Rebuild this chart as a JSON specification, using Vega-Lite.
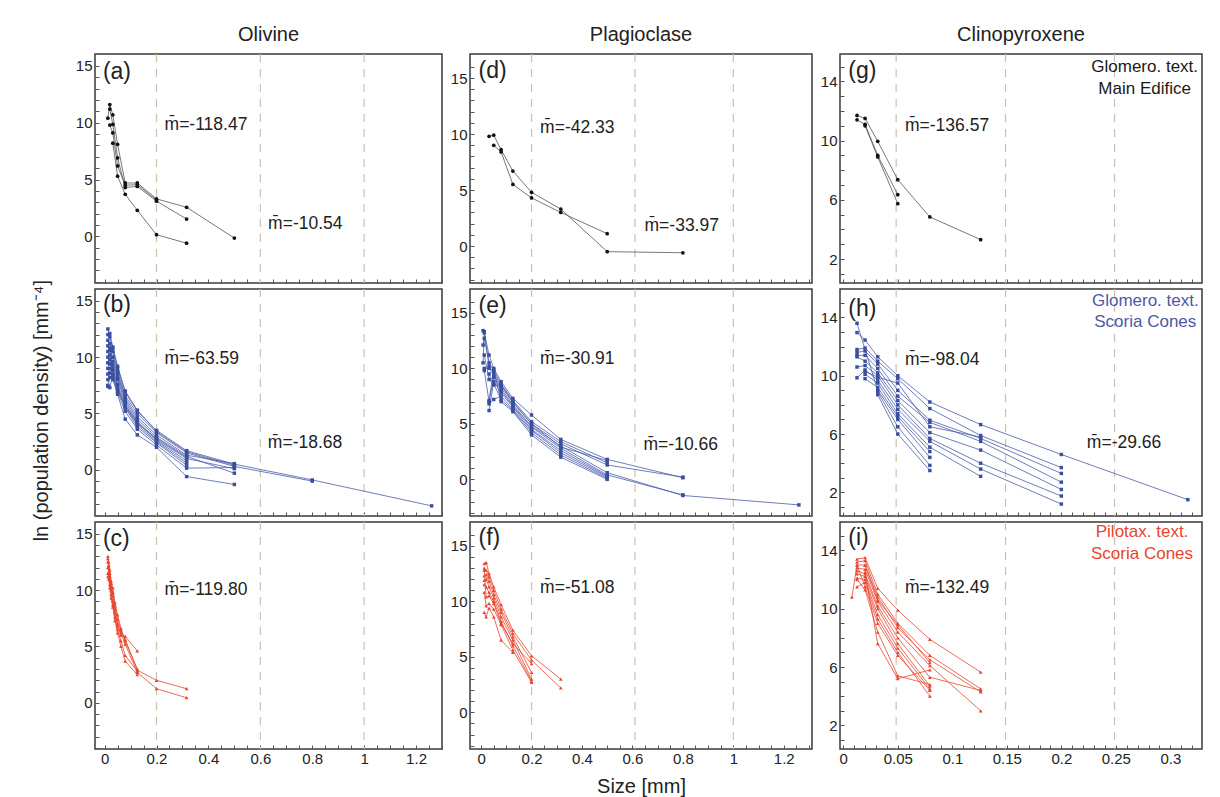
{
"$schema": "https://vega.github.io/schema/vega-lite/v6.json",
"padding": {"left": 31, "top": 24, "right": 5, "bottom": 5},
"background": "white",
"title": {"text": "ln  (population density) [mm⁻⁴]", "orient": "left", "anchor": "middle", "fontSize": 20, "offset": 3, "font": "Liberation Sans", "fontWeight": "normal", "color": "#222", "baseline": "bottom"},
"config": {
  "font": "Liberation Sans",
  "view": {"stroke": "#3a3a3a", "strokeWidth": 1.5},
  "axis": {"grid": false, "domain": false, "tickColor": "#555", "tickSize": 4, "offset": -4, "tickWidth": 1, "labelFont": "Liberation Sans", "labelFontSize": 15, "labelColor": "#222", "labelPadding": 3, "labelOverlap": false, "labelFlush": false, "titleFont": "Liberation Sans", "titleFontSize": 20, "titleFontWeight": "normal", "titleColor": "#222", "titlePadding": 10},
  "axisX": {"labelPadding": 2},
  "title": {"font": "Liberation Sans", "fontSize": 20, "fontWeight": "normal", "color": "#222", "anchor": "middle", "offset": 8, "baseline": "alphabetic"}
},
"datasets": {
  "dOl": [{"x": 0.2}, {"x": 0.6}, {"x": 1.0}],
  "dPl": [{"x": 0.2}, {"x": 0.61}, {"x": 1.0}],
  "dCp": [{"x": 0.0485}, {"x": 0.1488}, {"x": 0.2488}],
  "lab": [
    {"p": "a", "x": -0.0066, "y": 14.5, "t": "(a)"},
    {"p": "b", "x": -0.0066, "y": 14.6, "t": "(b)"},
    {"p": "c", "x": -0.0066, "y": 14.5, "t": "(c)"},
    {"p": "d", "x": -0.0103, "y": 15.65, "t": "(d)"},
    {"p": "e", "x": -0.0103, "y": 15.6, "t": "(e)"},
    {"p": "f", "x": -0.0103, "y": 15.7, "t": "(f)"},
    {"p": "g", "x": 0.0046, "y": 14.7, "t": "(g)"},
    {"p": "h", "x": 0.0046, "y": 14.6, "t": "(h)"},
    {"p": "i", "x": 0.0046, "y": 14.85, "t": "(i)"}
  ],
  "slope": [
    {"p": "a", "x": 0.231, "y": 9.8, "t": "m̄=-118.47"},
    {"p": "a", "x": 0.63, "y": 1.06, "t": "m̄=-10.54"},
    {"p": "b", "x": 0.231, "y": 9.86, "t": "m̄=-63.59"},
    {"p": "b", "x": 0.629, "y": 2.35, "t": "m̄=-18.68"},
    {"p": "c", "x": 0.231, "y": 10.0, "t": "m̄=-119.80"},
    {"p": "d", "x": 0.234, "y": 10.56, "t": "m̄=-42.33"},
    {"p": "d", "x": 0.648, "y": 1.81, "t": "m̄=-33.97"},
    {"p": "e", "x": 0.234, "y": 10.8, "t": "m̄=-30.91"},
    {"p": "e", "x": 0.644, "y": 3.07, "t": "m̄=-10.66"},
    {"p": "f", "x": 0.234, "y": 11.2, "t": "m̄=-51.08"},
    {"p": "g", "x": 0.0566, "y": 11.0, "t": "m̄=-136.57"},
    {"p": "h", "x": 0.0566, "y": 11.1, "t": "m̄=-98.04"},
    {"p": "h", "x": 0.2234, "y": 5.37, "t": "m̄=-29.66"},
    {"p": "i", "x": 0.0566, "y": 11.4, "t": "m̄=-132.49"}
  ],
  "leg": [
    {"p": "g", "x": 0.2764, "y": 15.0, "t": "Glomero. text."},
    {"p": "g", "x": 0.2764, "y": 13.5, "t": "Main Edifice"},
    {"p": "h", "x": 0.277, "y": 15.1, "t": "Glomero. text."},
    {"p": "h", "x": 0.277, "y": 13.7, "t": "Scoria Cones"},
    {"p": "i", "x": 0.274, "y": 15.26, "t": "Pilotax. text."},
    {"p": "i", "x": 0.274, "y": 13.77, "t": "Scoria Cones"}
  ],
  "a": [
    {"s":1,"x":0.0126,"y":10.4},{"s":1,"x":0.02,"y":11.6},{"s":1,"x":0.0316,"y":10.7},{"s":1,"x":0.05,"y":8.1},{"s":1,"x":0.0794,"y":4.7},{"s":1,"x":0.126,"y":4.7},{"s":1,"x":0.2,"y":3.3},{"s":1,"x":0.316,"y":2.56},{"s":1,"x":0.5,"y":-0.15},
    {"s":2,"x":0.02,"y":11.2},{"s":2,"x":0.0316,"y":9.85},{"s":2,"x":0.05,"y":6.9},{"s":2,"x":0.0794,"y":4.3},{"s":2,"x":0.126,"y":4.4},{"s":2,"x":0.2,"y":3.1},{"s":2,"x":0.316,"y":1.53},
    {"s":3,"x":0.02,"y":9.8},{"s":3,"x":0.0316,"y":9.1},{"s":3,"x":0.05,"y":6.2},{"s":3,"x":0.0794,"y":4.5},{"s":3,"x":0.126,"y":4.55},{"s":3,"x":0.2,"y":3.2},
    {"s":4,"x":0.0316,"y":8.2},{"s":4,"x":0.05,"y":5.3},{"s":4,"x":0.0794,"y":3.7},{"s":4,"x":0.126,"y":2.3},{"s":4,"x":0.2,"y":0.15},{"s":4,"x":0.316,"y":-0.6}
  ],
  "b": [
    {"s":1,"x":0.0126,"y":12.5},{"s":1,"x":0.02,"y":11.8},{"s":1,"x":0.0316,"y":10.8},{"s":1,"x":0.05,"y":9.0},{"s":1,"x":0.0794,"y":6.9},{"s":1,"x":0.126,"y":5.2},{"s":1,"x":0.2,"y":3.5},{"s":1,"x":0.316,"y":1.7},{"s":1,"x":0.5,"y":0.5},{"s":1,"x":0.8,"y":-0.9},{"s":1,"x":1.26,"y":-3.2},
    {"s":2,"x":0.0126,"y":11.5},{"s":2,"x":0.02,"y":11.2},{"s":2,"x":0.0316,"y":10.5},{"s":2,"x":0.05,"y":8.7},{"s":2,"x":0.0794,"y":6.6},{"s":2,"x":0.126,"y":5.0},{"s":2,"x":0.2,"y":3.3},{"s":2,"x":0.316,"y":1.5},{"s":2,"x":0.5,"y":0.3},{"s":2,"x":0.8,"y":-1.0},
    {"s":3,"x":0.0126,"y":11.0},{"s":3,"x":0.02,"y":10.8},{"s":3,"x":0.0316,"y":10.0},{"s":3,"x":0.05,"y":8.5},{"s":3,"x":0.0794,"y":6.4},{"s":3,"x":0.126,"y":4.7},{"s":3,"x":0.2,"y":3.1},{"s":3,"x":0.316,"y":1.3},{"s":3,"x":0.5,"y":0.55},
    {"s":4,"x":0.0126,"y":10.5},{"s":4,"x":0.02,"y":10.6},{"s":4,"x":0.0316,"y":9.6},{"s":4,"x":0.05,"y":8.3},{"s":4,"x":0.0794,"y":6.2},{"s":4,"x":0.126,"y":4.5},{"s":4,"x":0.2,"y":2.9},{"s":4,"x":0.316,"y":1.2},{"s":4,"x":0.5,"y":-0.3},
    {"s":5,"x":0.0126,"y":10.0},{"s":5,"x":0.02,"y":10.2},{"s":5,"x":0.0316,"y":9.3},{"s":5,"x":0.05,"y":8.0},{"s":5,"x":0.0794,"y":6.0},{"s":5,"x":0.126,"y":4.3},{"s":5,"x":0.2,"y":2.7},{"s":5,"x":0.316,"y":1.0},{"s":5,"x":0.5,"y":0.1},
    {"s":6,"x":0.0126,"y":9.5},{"s":6,"x":0.02,"y":9.8},{"s":6,"x":0.0316,"y":9.0},{"s":6,"x":0.05,"y":7.6},{"s":6,"x":0.0794,"y":5.8},{"s":6,"x":0.126,"y":4.2},{"s":6,"x":0.2,"y":2.6},{"s":6,"x":0.316,"y":0.8},
    {"s":7,"x":0.0126,"y":9.0},{"s":7,"x":0.02,"y":9.4},{"s":7,"x":0.0316,"y":8.8},{"s":7,"x":0.05,"y":7.4},{"s":7,"x":0.0794,"y":5.6},{"s":7,"x":0.126,"y":4.0},{"s":7,"x":0.2,"y":2.5},{"s":7,"x":0.316,"y":0.6},
    {"s":8,"x":0.0126,"y":8.5},{"s":8,"x":0.02,"y":9.0},{"s":8,"x":0.0316,"y":8.5},{"s":8,"x":0.05,"y":7.2},{"s":8,"x":0.0794,"y":5.5},{"s":8,"x":0.126,"y":3.8},{"s":8,"x":0.2,"y":2.4},{"s":8,"x":0.316,"y":0.4},
    {"s":9,"x":0.0126,"y":8.0},{"s":9,"x":0.02,"y":8.6},{"s":9,"x":0.0316,"y":8.2},{"s":9,"x":0.05,"y":6.9},{"s":9,"x":0.0794,"y":5.2},{"s":9,"x":0.126,"y":3.6},{"s":9,"x":0.2,"y":2.2},{"s":9,"x":0.316,"y":0.15},{"s":9,"x":0.5,"y":0.2},
    {"s":10,"x":0.0126,"y":7.5},{"s":10,"x":0.02,"y":8.2},{"s":10,"x":0.0316,"y":8.0},{"s":10,"x":0.05,"y":6.7},{"s":10,"x":0.0794,"y":4.5},{"s":10,"x":0.126,"y":3.1},{"s":10,"x":0.2,"y":2.0},{"s":10,"x":0.316,"y":-0.6},{"s":10,"x":0.5,"y":-1.3},
    {"s":11,"x":0.0126,"y":7.4},{"s":11,"x":0.02,"y":7.3},{"s":11,"x":0.0316,"y":8.4},{"s":11,"x":0.05,"y":7.0},{"s":11,"x":0.0794,"y":5.7},{"s":11,"x":0.126,"y":4.1},{"s":11,"x":0.2,"y":2.8},{"s":11,"x":0.316,"y":1.1},
    {"s":12,"x":0.0126,"y":12.0},{"s":12,"x":0.02,"y":12.1},{"s":12,"x":0.0316,"y":10.9},{"s":12,"x":0.05,"y":9.2},{"s":12,"x":0.0794,"y":7.0},{"s":12,"x":0.126,"y":5.3},{"s":12,"x":0.2,"y":3.4},{"s":12,"x":0.316,"y":1.6},{"s":12,"x":0.5,"y":0.4}
  ],
  "c": [
    {"s":1,"x":0.0126,"y":13.0},{"s":1,"x":0.0158,"y":12.2},{"s":1,"x":0.02,"y":11.5},{"s":1,"x":0.0251,"y":10.6},{"s":1,"x":0.0316,"y":9.8},{"s":1,"x":0.0398,"y":8.6},{"s":1,"x":0.05,"y":7.4},{"s":1,"x":0.0631,"y":6.4},{"s":1,"x":0.0794,"y":5.6},{"s":1,"x":0.126,"y":2.9},{"s":1,"x":0.2,"y":2.0},{"s":1,"x":0.316,"y":1.25},
    {"s":2,"x":0.0126,"y":12.5},{"s":2,"x":0.0158,"y":12.0},{"s":2,"x":0.02,"y":11.2},{"s":2,"x":0.0251,"y":10.3},{"s":2,"x":0.0316,"y":9.5},{"s":2,"x":0.0398,"y":8.3},{"s":2,"x":0.05,"y":7.0},{"s":2,"x":0.0631,"y":6.2},{"s":2,"x":0.0794,"y":5.2},{"s":2,"x":0.126,"y":2.7},{"s":2,"x":0.2,"y":1.25},{"s":2,"x":0.316,"y":0.45},
    {"s":3,"x":0.0126,"y":12.0},{"s":3,"x":0.0158,"y":11.6},{"s":3,"x":0.02,"y":10.9},{"s":3,"x":0.0251,"y":10.0},{"s":3,"x":0.0316,"y":9.0},{"s":3,"x":0.0398,"y":8.0},{"s":3,"x":0.05,"y":6.8},{"s":3,"x":0.0631,"y":6.0},{"s":3,"x":0.0794,"y":5.9},{"s":3,"x":0.126,"y":4.6},
    {"s":4,"x":0.0126,"y":11.5},{"s":4,"x":0.0158,"y":11.3},{"s":4,"x":0.02,"y":10.5},{"s":4,"x":0.0251,"y":9.6},{"s":4,"x":0.0316,"y":8.7},{"s":4,"x":0.0398,"y":7.6},{"s":4,"x":0.05,"y":6.5},{"s":4,"x":0.0631,"y":5.5},{"s":4,"x":0.0794,"y":4.2},{"s":4,"x":0.126,"y":2.8},
    {"s":5,"x":0.0126,"y":11.2},{"s":5,"x":0.0158,"y":11.0},{"s":5,"x":0.02,"y":10.2},{"s":5,"x":0.0251,"y":9.3},{"s":5,"x":0.0316,"y":8.5},{"s":5,"x":0.0398,"y":7.3},{"s":5,"x":0.05,"y":6.2},{"s":5,"x":0.0631,"y":5.0},{"s":5,"x":0.0794,"y":3.7},{"s":5,"x":0.126,"y":2.5},
    {"s":6,"x":0.0126,"y":12.8},{"s":6,"x":0.0158,"y":12.5},{"s":6,"x":0.02,"y":11.8},{"s":6,"x":0.0251,"y":10.8},{"s":6,"x":0.0316,"y":10.2},{"s":6,"x":0.0398,"y":8.9},{"s":6,"x":0.05,"y":7.8},{"s":6,"x":0.0631,"y":6.6},{"s":6,"x":0.0794,"y":5.5},{"s":6,"x":0.126,"y":3.0}
  ],
  "d": [
    {"s":1,"x":0.0316,"y":9.8},{"s":1,"x":0.05,"y":9.9},{"s":1,"x":0.0794,"y":8.6},{"s":1,"x":0.126,"y":6.7},{"s":1,"x":0.2,"y":4.8},{"s":1,"x":0.316,"y":3.3},{"s":1,"x":0.5,"y":-0.5},{"s":1,"x":0.8,"y":-0.6},
    {"s":2,"x":0.05,"y":9.0},{"s":2,"x":0.0794,"y":8.4},{"s":2,"x":0.126,"y":5.5},{"s":2,"x":0.2,"y":4.3},{"s":2,"x":0.316,"y":3.0},{"s":2,"x":0.5,"y":1.1}
  ],
  "e": [
    {"s":1,"x":0.0079,"y":13.4},{"s":1,"x":0.0126,"y":13.2},{"s":1,"x":0.0316,"y":11.2},{"s":1,"x":0.05,"y":10.0},{"s":1,"x":0.0794,"y":8.8},{"s":1,"x":0.126,"y":7.3},{"s":1,"x":0.2,"y":5.8},{"s":1,"x":0.316,"y":3.6},{"s":1,"x":0.5,"y":1.8},{"s":1,"x":0.8,"y":0.15},
    {"s":2,"x":0.0079,"y":12.1},{"s":2,"x":0.0126,"y":12.7},{"s":2,"x":0.0316,"y":10.5},{"s":2,"x":0.05,"y":9.8},{"s":2,"x":0.0794,"y":8.6},{"s":2,"x":0.126,"y":7.1},{"s":2,"x":0.2,"y":5.2},{"s":2,"x":0.316,"y":3.4},{"s":2,"x":0.5,"y":1.5},
    {"s":3,"x":0.0079,"y":10.5},{"s":3,"x":0.0126,"y":13.3},{"s":3,"x":0.0316,"y":10.2},{"s":3,"x":0.05,"y":9.6},{"s":3,"x":0.0794,"y":8.4},{"s":3,"x":0.126,"y":6.9},{"s":3,"x":0.2,"y":5.0},{"s":3,"x":0.316,"y":3.2},{"s":3,"x":0.5,"y":1.3},{"s":3,"x":0.8,"y":0.2},
    {"s":4,"x":0.0126,"y":10.0},{"s":4,"x":0.0316,"y":10.0},{"s":4,"x":0.05,"y":9.4},{"s":4,"x":0.0794,"y":8.2},{"s":4,"x":0.126,"y":6.7},{"s":4,"x":0.2,"y":4.8},{"s":4,"x":0.316,"y":3.0},{"s":4,"x":0.5,"y":0.6},{"s":4,"x":0.8,"y":-1.45},{"s":4,"x":1.26,"y":-2.3},
    {"s":5,"x":0.0126,"y":9.8},{"s":5,"x":0.0316,"y":7.0},{"s":5,"x":0.05,"y":9.2},{"s":5,"x":0.0794,"y":8.0},{"s":5,"x":0.126,"y":6.6},{"s":5,"x":0.2,"y":4.7},{"s":5,"x":0.316,"y":2.8},{"s":5,"x":0.5,"y":0.4},{"s":5,"x":0.8,"y":-1.4},
    {"s":6,"x":0.0316,"y":6.2},{"s":6,"x":0.05,"y":8.8},{"s":6,"x":0.0794,"y":7.8},{"s":6,"x":0.126,"y":6.5},{"s":6,"x":0.2,"y":4.5},{"s":6,"x":0.316,"y":2.6},{"s":6,"x":0.5,"y":0.3},
    {"s":7,"x":0.0316,"y":6.8},{"s":7,"x":0.05,"y":7.2},{"s":7,"x":0.0794,"y":7.5},{"s":7,"x":0.126,"y":6.3},{"s":7,"x":0.2,"y":4.4},{"s":7,"x":0.316,"y":2.4},{"s":7,"x":0.5,"y":0.2},
    {"s":8,"x":0.0316,"y":9.5},{"s":8,"x":0.05,"y":8.6},{"s":8,"x":0.0794,"y":7.2},{"s":8,"x":0.126,"y":6.2},{"s":8,"x":0.2,"y":4.2},{"s":8,"x":0.316,"y":2.2},{"s":8,"x":0.5,"y":0.1},
    {"s":9,"x":0.0316,"y":7.1},{"s":9,"x":0.05,"y":9.9},{"s":9,"x":0.0794,"y":7.0},{"s":9,"x":0.126,"y":6.1},{"s":9,"x":0.2,"y":4.0},{"s":9,"x":0.316,"y":2.0},{"s":9,"x":0.5,"y":0.0},
    {"s":10,"x":0.0126,"y":11.2},{"s":10,"x":0.0316,"y":9.0},{"s":10,"x":0.05,"y":8.5},{"s":10,"x":0.0794,"y":8.5},{"s":10,"x":0.126,"y":7.0},{"s":10,"x":0.2,"y":5.0},{"s":10,"x":0.316,"y":2.9},{"s":10,"x":0.5,"y":1.7}
  ],
  "f": [
    {"s":1,"x":0.0126,"y":13.4},{"s":1,"x":0.02,"y":13.5},{"s":1,"x":0.0316,"y":12.5},{"s":1,"x":0.05,"y":11.3},{"s":1,"x":0.0794,"y":9.7},{"s":1,"x":0.126,"y":7.4},{"s":1,"x":0.2,"y":5.1},{"s":1,"x":0.316,"y":3.0},
    {"s":2,"x":0.0126,"y":13.0},{"s":2,"x":0.02,"y":12.8},{"s":2,"x":0.0316,"y":12.2},{"s":2,"x":0.05,"y":11.0},{"s":2,"x":0.0794,"y":9.3},{"s":2,"x":0.126,"y":7.1},{"s":2,"x":0.2,"y":4.7},{"s":2,"x":0.316,"y":2.2},
    {"s":3,"x":0.0126,"y":12.3},{"s":3,"x":0.02,"y":12.4},{"s":3,"x":0.0316,"y":11.8},{"s":3,"x":0.05,"y":10.6},{"s":3,"x":0.0794,"y":9.0},{"s":3,"x":0.126,"y":6.8},{"s":3,"x":0.2,"y":3.6},
    {"s":4,"x":0.0126,"y":11.9},{"s":4,"x":0.02,"y":12.0},{"s":4,"x":0.0316,"y":11.3},{"s":4,"x":0.05,"y":10.3},{"s":4,"x":0.0794,"y":8.6},{"s":4,"x":0.126,"y":6.5},{"s":4,"x":0.2,"y":3.0},
    {"s":5,"x":0.0126,"y":11.5},{"s":5,"x":0.02,"y":11.3},{"s":5,"x":0.0316,"y":10.8},{"s":5,"x":0.05,"y":10.0},{"s":5,"x":0.0794,"y":8.2},{"s":5,"x":0.126,"y":6.0},{"s":5,"x":0.2,"y":2.8},
    {"s":6,"x":0.0126,"y":10.8},{"s":6,"x":0.02,"y":9.6},{"s":6,"x":0.0316,"y":9.8},{"s":6,"x":0.05,"y":9.3},{"s":6,"x":0.0794,"y":7.9},{"s":6,"x":0.126,"y":5.6},{"s":6,"x":0.2,"y":2.7},
    {"s":7,"x":0.0126,"y":9.0},{"s":7,"x":0.02,"y":8.6},{"s":7,"x":0.0316,"y":9.4},{"s":7,"x":0.05,"y":8.6},{"s":7,"x":0.0794,"y":6.5},{"s":7,"x":0.126,"y":5.4},
    {"s":8,"x":0.0126,"y":12.8},{"s":8,"x":0.02,"y":10.4},{"s":8,"x":0.0316,"y":10.5},{"s":8,"x":0.05,"y":9.8},{"s":8,"x":0.0794,"y":8.0},{"s":8,"x":0.126,"y":6.2},{"s":8,"x":0.2,"y":4.4}
  ],
  "g": [
    {"s":1,"x":0.0126,"y":11.7},{"s":1,"x":0.02,"y":11.5},{"s":1,"x":0.0316,"y":9.95},{"s":1,"x":0.05,"y":7.36},{"s":1,"x":0.0794,"y":4.84},{"s":1,"x":0.126,"y":3.31},
    {"s":2,"x":0.0126,"y":11.4},{"s":2,"x":0.02,"y":11.1},{"s":2,"x":0.0316,"y":9.0},{"s":2,"x":0.05,"y":6.35},
    {"s":3,"x":0.02,"y":11.0},{"s":3,"x":0.0316,"y":8.9},{"s":3,"x":0.05,"y":5.74}
  ],
  "h": [
    {"s":1,"x":0.0126,"y":12.96},{"s":1,"x":0.02,"y":12.45},{"s":1,"x":0.0316,"y":11.3},{"s":1,"x":0.05,"y":10.0},{"s":1,"x":0.0794,"y":8.2},{"s":1,"x":0.126,"y":6.65},{"s":1,"x":0.2,"y":4.6},{"s":1,"x":0.316,"y":1.5},
    {"s":2,"x":0.0126,"y":11.8},{"s":2,"x":0.02,"y":11.9},{"s":2,"x":0.0316,"y":11.0},{"s":2,"x":0.05,"y":9.8},{"s":2,"x":0.0794,"y":7.75},{"s":2,"x":0.126,"y":5.9},{"s":2,"x":0.2,"y":3.7},
    {"s":3,"x":0.0126,"y":11.6},{"s":3,"x":0.02,"y":11.7},{"s":3,"x":0.0316,"y":10.8},{"s":3,"x":0.05,"y":9.0},{"s":3,"x":0.0794,"y":6.95},{"s":3,"x":0.126,"y":5.7},{"s":3,"x":0.2,"y":3.3},
    {"s":4,"x":0.0126,"y":11.4},{"s":4,"x":0.02,"y":11.4},{"s":4,"x":0.0316,"y":10.5},{"s":4,"x":0.05,"y":8.6},{"s":4,"x":0.0794,"y":6.8},{"s":4,"x":0.126,"y":5.5},{"s":4,"x":0.2,"y":2.7},
    {"s":5,"x":0.0126,"y":11.3},{"s":5,"x":0.02,"y":11.0},{"s":5,"x":0.0316,"y":10.2},{"s":5,"x":0.05,"y":8.3},{"s":5,"x":0.0794,"y":6.1},{"s":5,"x":0.126,"y":4.9},{"s":5,"x":0.2,"y":2.2},
    {"s":6,"x":0.0126,"y":10.6},{"s":6,"x":0.02,"y":10.7},{"s":6,"x":0.0316,"y":10.0},{"s":6,"x":0.05,"y":8.0},{"s":6,"x":0.0794,"y":5.7},{"s":6,"x":0.126,"y":4.0},{"s":6,"x":0.2,"y":1.75},
    {"s":7,"x":0.0126,"y":9.86},{"s":7,"x":0.02,"y":10.4},{"s":7,"x":0.0316,"y":9.7},{"s":7,"x":0.05,"y":7.7},{"s":7,"x":0.0794,"y":5.5},{"s":7,"x":0.126,"y":3.6},{"s":7,"x":0.2,"y":1.2},
    {"s":8,"x":0.02,"y":10.1},{"s":8,"x":0.0316,"y":9.5},{"s":8,"x":0.05,"y":7.4},{"s":8,"x":0.0794,"y":5.1},{"s":8,"x":0.126,"y":3.1},
    {"s":9,"x":0.02,"y":9.8},{"s":9,"x":0.0316,"y":9.2},{"s":9,"x":0.05,"y":7.2},{"s":9,"x":0.0794,"y":4.8},
    {"s":10,"x":0.0126,"y":13.6},{"s":10,"x":0.0316,"y":9.0},{"s":10,"x":0.05,"y":7.0},{"s":10,"x":0.0794,"y":4.4},
    {"s":11,"x":0.0316,"y":8.9},{"s":11,"x":0.05,"y":6.5},{"s":11,"x":0.0794,"y":3.85},
    {"s":12,"x":0.0316,"y":8.7},{"s":12,"x":0.05,"y":6.0},{"s":12,"x":0.0794,"y":3.5},
    {"s":13,"x":0.02,"y":10.3},{"s":13,"x":0.0316,"y":9.9},{"s":13,"x":0.05,"y":9.5},{"s":13,"x":0.0794,"y":6.5},{"s":13,"x":0.126,"y":5.8}
  ],
  "i": [
    {"s":1,"x":0.0126,"y":13.4},{"s":1,"x":0.02,"y":13.5},{"s":1,"x":0.0316,"y":11.4},{"s":1,"x":0.05,"y":9.9},{"s":1,"x":0.0794,"y":7.9},{"s":1,"x":0.126,"y":5.65},
    {"s":2,"x":0.0126,"y":13.2},{"s":2,"x":0.02,"y":13.3},{"s":2,"x":0.0316,"y":11.0},{"s":2,"x":0.05,"y":9.0},{"s":2,"x":0.0794,"y":6.8},{"s":2,"x":0.126,"y":4.5},
    {"s":3,"x":0.0126,"y":13.0},{"s":3,"x":0.02,"y":13.0},{"s":3,"x":0.0316,"y":10.8},{"s":3,"x":0.05,"y":8.7},{"s":3,"x":0.0794,"y":6.5},{"s":3,"x":0.126,"y":4.3},
    {"s":4,"x":0.0126,"y":12.8},{"s":4,"x":0.02,"y":12.7},{"s":4,"x":0.0316,"y":10.5},{"s":4,"x":0.05,"y":8.4},{"s":4,"x":0.0794,"y":6.1},{"s":4,"x":0.126,"y":3.0},
    {"s":5,"x":0.0126,"y":12.6},{"s":5,"x":0.02,"y":12.4},{"s":5,"x":0.0316,"y":10.2},{"s":5,"x":0.05,"y":8.0},{"s":5,"x":0.0794,"y":5.3},{"s":5,"x":0.126,"y":4.4},
    {"s":6,"x":0.0126,"y":12.4},{"s":6,"x":0.02,"y":12.2},{"s":6,"x":0.0316,"y":10.0},{"s":6,"x":0.05,"y":7.6},{"s":6,"x":0.0794,"y":4.7},
    {"s":7,"x":0.0126,"y":12.1},{"s":7,"x":0.02,"y":12.0},{"s":7,"x":0.0316,"y":9.6},{"s":7,"x":0.05,"y":7.3},{"s":7,"x":0.0794,"y":4.5},
    {"s":8,"x":0.0126,"y":11.5},{"s":8,"x":0.02,"y":11.8},{"s":8,"x":0.0316,"y":9.3},{"s":8,"x":0.05,"y":7.0},{"s":8,"x":0.0794,"y":4.0},
    {"s":9,"x":0.0079,"y":10.8},{"s":9,"x":0.0126,"y":13.0},{"s":9,"x":0.02,"y":11.5},{"s":9,"x":0.0316,"y":9.0},{"s":9,"x":0.05,"y":6.8},{"s":9,"x":0.0794,"y":4.4},
    {"s":10,"x":0.0126,"y":12.0},{"s":10,"x":0.02,"y":11.3},{"s":10,"x":0.0316,"y":8.4},{"s":10,"x":0.05,"y":5.4},{"s":10,"x":0.0794,"y":4.8},
    {"s":11,"x":0.02,"y":12.5},{"s":11,"x":0.0316,"y":7.6},{"s":11,"x":0.05,"y":5.2},{"s":11,"x":0.0794,"y":5.8},
    {"s":12,"x":0.02,"y":13.0},{"s":12,"x":0.0316,"y":10.6},{"s":12,"x":0.05,"y":8.9},{"s":12,"x":0.0794,"y":6.3}
  ]
},
"columns": 3,
"spacing": {"row": 6, "column": 28},
"bounds": "flush",
"concat": [
    {"width": 347, "height": 229, "title": {"text": "Olivine"},
     "layer": [
      {"data": {"name": "dOl"}, "mark": {"type": "rule", "color": "#cdbfad", "strokeDash": [8, 7], "strokeWidth": 1.2}, "encoding": {"x": {"field": "x", "type": "quantitative", "title": null, "scale": {"domain": [-0.037, 1.3], "nice": false, "zero": false}, "axis": {"labelOverlap": false, "tickCount": 100, "values": [0,0.05,0.1,0.15,0.2,0.25,0.3,0.35,0.4,0.45,0.5,0.55,0.6,0.65,0.7,0.75,0.8,0.85,0.9,0.95,1,1.05,1.1,1.15,1.2,1.25,1.3], "labels": false}}}},
      {"data": {"name": "a"}, "mark": {"type": "line", "color": "#555555", "strokeWidth": 0.8}, "encoding": {"x": {"field": "x", "type": "quantitative", "title": null, "scale": {"domain": [-0.037, 1.3], "nice": false, "zero": false}, "axis": {"labelOverlap": false, "tickCount": 100, "values": [0,0.05,0.1,0.15,0.2,0.25,0.3,0.35,0.4,0.45,0.5,0.55,0.6,0.65,0.7,0.75,0.8,0.85,0.9,0.95,1,1.05,1.1,1.15,1.2,1.25,1.3], "labels": false}}, "y": {"field": "y", "type": "quantitative", "title": null, "scale": {"domain": [-4.1, 16.05], "nice": false, "zero": false}, "axis": {"labelOverlap": false, "tickCount": 100, "values": [-4,-3,-2,-1,0,1,2,3,4,5,6,7,8,9,10,11,12,13,14,15], "labelExpr": "datum.value % 5 === 0 ? format(datum.value, '~g') : ''"}}, "detail": {"field": "s"}}},
      {"data": {"name": "a"}, "mark": {"type": "point", "shape": "circle", "filled": true, "opacity": 1, "color": "#111111", "size": 14}, "encoding": {"x": {"field": "x", "type": "quantitative", "title": null, "scale": {"domain": [-0.037, 1.3], "nice": false, "zero": false}, "axis": {"labelOverlap": false, "tickCount": 100, "values": [0,0.05,0.1,0.15,0.2,0.25,0.3,0.35,0.4,0.45,0.5,0.55,0.6,0.65,0.7,0.75,0.8,0.85,0.9,0.95,1,1.05,1.1,1.15,1.2,1.25,1.3], "labels": false}}, "y": {"field": "y", "type": "quantitative", "title": null, "scale": {"domain": [-4.1, 16.05], "nice": false, "zero": false}, "axis": {"labelOverlap": false, "tickCount": 100, "values": [-4,-3,-2,-1,0,1,2,3,4,5,6,7,8,9,10,11,12,13,14,15], "labelExpr": "datum.value % 5 === 0 ? format(datum.value, '~g') : ''"}}}},
      {"data": {"name": "lab"}, "transform": [{"filter": "datum.p === 'a'"}], "mark": {"type": "text", "align": "left", "baseline": "middle", "fontSize": 23, "color": "#222"}, "encoding": {"x": {"field": "x", "type": "quantitative"}, "y": {"field": "y", "type": "quantitative"}, "text": {"field": "t"}}},
      {"data": {"name": "slope"}, "transform": [{"filter": "datum.p === 'a'"}], "mark": {"type": "text", "align": "left", "baseline": "middle", "fontSize": 17.5, "color": "#222"}, "encoding": {"x": {"field": "x", "type": "quantitative"}, "y": {"field": "y", "type": "quantitative"}, "text": {"field": "t"}}}
     ]},
    {"width": 342, "height": 229, "title": {"text": "Plagioclase"},
     "layer": [
      {"data": {"name": "dPl"}, "mark": {"type": "rule", "color": "#cdbfad", "strokeDash": [8, 7], "strokeWidth": 1.2}, "encoding": {"x": {"field": "x", "type": "quantitative", "title": null, "scale": {"domain": [-0.044, 1.312], "nice": false, "zero": false}, "axis": {"labelOverlap": false, "tickCount": 100, "values": [0,0.05,0.1,0.15,0.2,0.25,0.3,0.35,0.4,0.45,0.5,0.55,0.6,0.65,0.7,0.75,0.8,0.85,0.9,0.95,1,1.05,1.1,1.15,1.2,1.25,1.3], "labels": false}}}},
      {"data": {"name": "d"}, "mark": {"type": "line", "color": "#555555", "strokeWidth": 0.8}, "encoding": {"x": {"field": "x", "type": "quantitative", "title": null, "scale": {"domain": [-0.044, 1.312], "nice": false, "zero": false}, "axis": {"labelOverlap": false, "tickCount": 100, "values": [0,0.05,0.1,0.15,0.2,0.25,0.3,0.35,0.4,0.45,0.5,0.55,0.6,0.65,0.7,0.75,0.8,0.85,0.9,0.95,1,1.05,1.1,1.15,1.2,1.25,1.3], "labels": false}}, "y": {"field": "y", "type": "quantitative", "title": null, "scale": {"domain": [-3.3, 17.15], "nice": false, "zero": false}, "axis": {"labelOverlap": false, "tickCount": 100, "values": [-3,-2,-1,0,1,2,3,4,5,6,7,8,9,10,11,12,13,14,15,16], "labelExpr": "datum.value % 5 === 0 ? format(datum.value, '~g') : ''"}}, "detail": {"field": "s"}}},
      {"data": {"name": "d"}, "mark": {"type": "point", "shape": "circle", "filled": true, "opacity": 1, "color": "#111111", "size": 14}, "encoding": {"x": {"field": "x", "type": "quantitative", "title": null, "scale": {"domain": [-0.044, 1.312], "nice": false, "zero": false}, "axis": {"labelOverlap": false, "tickCount": 100, "values": [0,0.05,0.1,0.15,0.2,0.25,0.3,0.35,0.4,0.45,0.5,0.55,0.6,0.65,0.7,0.75,0.8,0.85,0.9,0.95,1,1.05,1.1,1.15,1.2,1.25,1.3], "labels": false}}, "y": {"field": "y", "type": "quantitative", "title": null, "scale": {"domain": [-3.3, 17.15], "nice": false, "zero": false}, "axis": {"labelOverlap": false, "tickCount": 100, "values": [-3,-2,-1,0,1,2,3,4,5,6,7,8,9,10,11,12,13,14,15,16], "labelExpr": "datum.value % 5 === 0 ? format(datum.value, '~g') : ''"}}}},
      {"data": {"name": "lab"}, "transform": [{"filter": "datum.p === 'd'"}], "mark": {"type": "text", "align": "left", "baseline": "middle", "fontSize": 23, "color": "#222"}, "encoding": {"x": {"field": "x", "type": "quantitative"}, "y": {"field": "y", "type": "quantitative"}, "text": {"field": "t"}}},
      {"data": {"name": "slope"}, "transform": [{"filter": "datum.p === 'd'"}], "mark": {"type": "text", "align": "left", "baseline": "middle", "fontSize": 17.5, "color": "#222"}, "encoding": {"x": {"field": "x", "type": "quantitative"}, "y": {"field": "y", "type": "quantitative"}, "text": {"field": "t"}}}
     ]},
    {"width": 362, "height": 229, "title": {"text": "Clinopyroxene"},
     "layer": [
      {"data": {"name": "dCp"}, "mark": {"type": "rule", "color": "#cdbfad", "strokeDash": [8, 7], "strokeWidth": 1.2}, "encoding": {"x": {"field": "x", "type": "quantitative", "title": null, "scale": {"domain": [-0.003, 0.329], "nice": false, "zero": false}, "axis": {"labelOverlap": false, "tickCount": 100, "values": [0,0.01,0.02,0.03,0.04,0.05,0.06,0.07,0.08,0.09,0.1,0.11,0.12,0.13,0.14,0.15,0.16,0.17,0.18,0.19,0.2,0.21,0.22,0.23,0.24,0.25,0.26,0.27,0.28,0.29,0.3,0.31,0.32], "labels": false}}}},
      {"data": {"name": "g"}, "mark": {"type": "line", "color": "#555555", "strokeWidth": 0.8}, "encoding": {"x": {"field": "x", "type": "quantitative", "title": null, "scale": {"domain": [-0.003, 0.329], "nice": false, "zero": false}, "axis": {"labelOverlap": false, "tickCount": 100, "values": [0,0.01,0.02,0.03,0.04,0.05,0.06,0.07,0.08,0.09,0.1,0.11,0.12,0.13,0.14,0.15,0.16,0.17,0.18,0.19,0.2,0.21,0.22,0.23,0.24,0.25,0.26,0.27,0.28,0.29,0.3,0.31,0.32], "labels": false}}, "y": {"field": "y", "type": "quantitative", "title": null, "scale": {"domain": [0.38, 15.85], "nice": false, "zero": false}, "axis": {"labelOverlap": false, "tickCount": 100, "values": [1,2,3,4,5,6,7,8,9,10,11,12,13,14,15], "labelExpr": "(datum.value + 2) % 4 === 0 ? format(datum.value, '~g') : ''"}}, "detail": {"field": "s"}}},
      {"data": {"name": "g"}, "mark": {"type": "point", "shape": "circle", "filled": true, "opacity": 1, "color": "#111111", "size": 14}, "encoding": {"x": {"field": "x", "type": "quantitative", "title": null, "scale": {"domain": [-0.003, 0.329], "nice": false, "zero": false}, "axis": {"labelOverlap": false, "tickCount": 100, "values": [0,0.01,0.02,0.03,0.04,0.05,0.06,0.07,0.08,0.09,0.1,0.11,0.12,0.13,0.14,0.15,0.16,0.17,0.18,0.19,0.2,0.21,0.22,0.23,0.24,0.25,0.26,0.27,0.28,0.29,0.3,0.31,0.32], "labels": false}}, "y": {"field": "y", "type": "quantitative", "title": null, "scale": {"domain": [0.38, 15.85], "nice": false, "zero": false}, "axis": {"labelOverlap": false, "tickCount": 100, "values": [1,2,3,4,5,6,7,8,9,10,11,12,13,14,15], "labelExpr": "(datum.value + 2) % 4 === 0 ? format(datum.value, '~g') : ''"}}}},
      {"data": {"name": "lab"}, "transform": [{"filter": "datum.p === 'g'"}], "mark": {"type": "text", "align": "left", "baseline": "middle", "fontSize": 23, "color": "#222"}, "encoding": {"x": {"field": "x", "type": "quantitative"}, "y": {"field": "y", "type": "quantitative"}, "text": {"field": "t"}}},
      {"data": {"name": "slope"}, "transform": [{"filter": "datum.p === 'g'"}], "mark": {"type": "text", "align": "left", "baseline": "middle", "fontSize": 17.5, "color": "#222"}, "encoding": {"x": {"field": "x", "type": "quantitative"}, "y": {"field": "y", "type": "quantitative"}, "text": {"field": "t"}}},
      {"data": {"name": "leg"}, "transform": [{"filter": "datum.p === 'g'"}], "mark": {"type": "text", "align": "center", "baseline": "middle", "fontSize": 17, "color": "#1a1a1a"}, "encoding": {"x": {"field": "x", "type": "quantitative"}, "y": {"field": "y", "type": "quantitative"}, "text": {"field": "t"}}}
     ]},
    {"width": 347, "height": 227,
     "layer": [
      {"data": {"name": "dOl"}, "mark": {"type": "rule", "color": "#cdbfad", "strokeDash": [8, 7], "strokeWidth": 1.2}, "encoding": {"x": {"field": "x", "type": "quantitative", "title": null, "scale": {"domain": [-0.037, 1.3], "nice": false, "zero": false}, "axis": {"labelOverlap": false, "tickCount": 100, "values": [0,0.05,0.1,0.15,0.2,0.25,0.3,0.35,0.4,0.45,0.5,0.55,0.6,0.65,0.7,0.75,0.8,0.85,0.9,0.95,1,1.05,1.1,1.15,1.2,1.25,1.3], "labels": false}}}},
      {"data": {"name": "b"}, "mark": {"type": "line", "color": "#4a5cab", "strokeWidth": 0.8}, "encoding": {"x": {"field": "x", "type": "quantitative", "title": null, "scale": {"domain": [-0.037, 1.3], "nice": false, "zero": false}, "axis": {"labelOverlap": false, "tickCount": 100, "values": [0,0.05,0.1,0.15,0.2,0.25,0.3,0.35,0.4,0.45,0.5,0.55,0.6,0.65,0.7,0.75,0.8,0.85,0.9,0.95,1,1.05,1.1,1.15,1.2,1.25,1.3], "labels": false}}, "y": {"field": "y", "type": "quantitative", "title": null, "scale": {"domain": [-4.1, 16.05], "nice": false, "zero": false}, "axis": {"labelOverlap": false, "tickCount": 100, "values": [-4,-3,-2,-1,0,1,2,3,4,5,6,7,8,9,10,11,12,13,14,15], "labelExpr": "datum.value % 5 === 0 ? format(datum.value, '~g') : ''"}}, "detail": {"field": "s"}}},
      {"data": {"name": "b"}, "mark": {"type": "point", "shape": "square", "filled": true, "opacity": 1, "color": "#3b4f9f", "size": 12}, "encoding": {"x": {"field": "x", "type": "quantitative", "title": null, "scale": {"domain": [-0.037, 1.3], "nice": false, "zero": false}, "axis": {"labelOverlap": false, "tickCount": 100, "values": [0,0.05,0.1,0.15,0.2,0.25,0.3,0.35,0.4,0.45,0.5,0.55,0.6,0.65,0.7,0.75,0.8,0.85,0.9,0.95,1,1.05,1.1,1.15,1.2,1.25,1.3], "labels": false}}, "y": {"field": "y", "type": "quantitative", "title": null, "scale": {"domain": [-4.1, 16.05], "nice": false, "zero": false}, "axis": {"labelOverlap": false, "tickCount": 100, "values": [-4,-3,-2,-1,0,1,2,3,4,5,6,7,8,9,10,11,12,13,14,15], "labelExpr": "datum.value % 5 === 0 ? format(datum.value, '~g') : ''"}}}},
      {"data": {"name": "lab"}, "transform": [{"filter": "datum.p === 'b'"}], "mark": {"type": "text", "align": "left", "baseline": "middle", "fontSize": 23, "color": "#222"}, "encoding": {"x": {"field": "x", "type": "quantitative"}, "y": {"field": "y", "type": "quantitative"}, "text": {"field": "t"}}},
      {"data": {"name": "slope"}, "transform": [{"filter": "datum.p === 'b'"}], "mark": {"type": "text", "align": "left", "baseline": "middle", "fontSize": 17.5, "color": "#222"}, "encoding": {"x": {"field": "x", "type": "quantitative"}, "y": {"field": "y", "type": "quantitative"}, "text": {"field": "t"}}}
     ]},
    {"width": 342, "height": 227,
     "layer": [
      {"data": {"name": "dPl"}, "mark": {"type": "rule", "color": "#cdbfad", "strokeDash": [8, 7], "strokeWidth": 1.2}, "encoding": {"x": {"field": "x", "type": "quantitative", "title": null, "scale": {"domain": [-0.044, 1.312], "nice": false, "zero": false}, "axis": {"labelOverlap": false, "tickCount": 100, "values": [0,0.05,0.1,0.15,0.2,0.25,0.3,0.35,0.4,0.45,0.5,0.55,0.6,0.65,0.7,0.75,0.8,0.85,0.9,0.95,1,1.05,1.1,1.15,1.2,1.25,1.3], "labels": false}}}},
      {"data": {"name": "e"}, "mark": {"type": "line", "color": "#4a5cab", "strokeWidth": 0.8}, "encoding": {"x": {"field": "x", "type": "quantitative", "title": null, "scale": {"domain": [-0.044, 1.312], "nice": false, "zero": false}, "axis": {"labelOverlap": false, "tickCount": 100, "values": [0,0.05,0.1,0.15,0.2,0.25,0.3,0.35,0.4,0.45,0.5,0.55,0.6,0.65,0.7,0.75,0.8,0.85,0.9,0.95,1,1.05,1.1,1.15,1.2,1.25,1.3], "labels": false}}, "y": {"field": "y", "type": "quantitative", "title": null, "scale": {"domain": [-3.3, 17.15], "nice": false, "zero": false}, "axis": {"labelOverlap": false, "tickCount": 100, "values": [-3,-2,-1,0,1,2,3,4,5,6,7,8,9,10,11,12,13,14,15,16], "labelExpr": "datum.value % 5 === 0 ? format(datum.value, '~g') : ''"}}, "detail": {"field": "s"}}},
      {"data": {"name": "e"}, "mark": {"type": "point", "shape": "square", "filled": true, "opacity": 1, "color": "#3b4f9f", "size": 12}, "encoding": {"x": {"field": "x", "type": "quantitative", "title": null, "scale": {"domain": [-0.044, 1.312], "nice": false, "zero": false}, "axis": {"labelOverlap": false, "tickCount": 100, "values": [0,0.05,0.1,0.15,0.2,0.25,0.3,0.35,0.4,0.45,0.5,0.55,0.6,0.65,0.7,0.75,0.8,0.85,0.9,0.95,1,1.05,1.1,1.15,1.2,1.25,1.3], "labels": false}}, "y": {"field": "y", "type": "quantitative", "title": null, "scale": {"domain": [-3.3, 17.15], "nice": false, "zero": false}, "axis": {"labelOverlap": false, "tickCount": 100, "values": [-3,-2,-1,0,1,2,3,4,5,6,7,8,9,10,11,12,13,14,15,16], "labelExpr": "datum.value % 5 === 0 ? format(datum.value, '~g') : ''"}}}},
      {"data": {"name": "lab"}, "transform": [{"filter": "datum.p === 'e'"}], "mark": {"type": "text", "align": "left", "baseline": "middle", "fontSize": 23, "color": "#222"}, "encoding": {"x": {"field": "x", "type": "quantitative"}, "y": {"field": "y", "type": "quantitative"}, "text": {"field": "t"}}},
      {"data": {"name": "slope"}, "transform": [{"filter": "datum.p === 'e'"}], "mark": {"type": "text", "align": "left", "baseline": "middle", "fontSize": 17.5, "color": "#222"}, "encoding": {"x": {"field": "x", "type": "quantitative"}, "y": {"field": "y", "type": "quantitative"}, "text": {"field": "t"}}}
     ]},
    {"width": 362, "height": 227,
     "layer": [
      {"data": {"name": "dCp"}, "mark": {"type": "rule", "color": "#cdbfad", "strokeDash": [8, 7], "strokeWidth": 1.2}, "encoding": {"x": {"field": "x", "type": "quantitative", "title": null, "scale": {"domain": [-0.003, 0.329], "nice": false, "zero": false}, "axis": {"labelOverlap": false, "tickCount": 100, "values": [0,0.01,0.02,0.03,0.04,0.05,0.06,0.07,0.08,0.09,0.1,0.11,0.12,0.13,0.14,0.15,0.16,0.17,0.18,0.19,0.2,0.21,0.22,0.23,0.24,0.25,0.26,0.27,0.28,0.29,0.3,0.31,0.32], "labels": false}}}},
      {"data": {"name": "h"}, "mark": {"type": "line", "color": "#4a5cab", "strokeWidth": 0.8}, "encoding": {"x": {"field": "x", "type": "quantitative", "title": null, "scale": {"domain": [-0.003, 0.329], "nice": false, "zero": false}, "axis": {"labelOverlap": false, "tickCount": 100, "values": [0,0.01,0.02,0.03,0.04,0.05,0.06,0.07,0.08,0.09,0.1,0.11,0.12,0.13,0.14,0.15,0.16,0.17,0.18,0.19,0.2,0.21,0.22,0.23,0.24,0.25,0.26,0.27,0.28,0.29,0.3,0.31,0.32], "labels": false}}, "y": {"field": "y", "type": "quantitative", "title": null, "scale": {"domain": [0.38, 15.95], "nice": false, "zero": false}, "axis": {"labelOverlap": false, "tickCount": 100, "values": [1,2,3,4,5,6,7,8,9,10,11,12,13,14,15], "labelExpr": "(datum.value + 2) % 4 === 0 ? format(datum.value, '~g') : ''"}}, "detail": {"field": "s"}}},
      {"data": {"name": "h"}, "mark": {"type": "point", "shape": "square", "filled": true, "opacity": 1, "color": "#3b4f9f", "size": 12}, "encoding": {"x": {"field": "x", "type": "quantitative", "title": null, "scale": {"domain": [-0.003, 0.329], "nice": false, "zero": false}, "axis": {"labelOverlap": false, "tickCount": 100, "values": [0,0.01,0.02,0.03,0.04,0.05,0.06,0.07,0.08,0.09,0.1,0.11,0.12,0.13,0.14,0.15,0.16,0.17,0.18,0.19,0.2,0.21,0.22,0.23,0.24,0.25,0.26,0.27,0.28,0.29,0.3,0.31,0.32], "labels": false}}, "y": {"field": "y", "type": "quantitative", "title": null, "scale": {"domain": [0.38, 15.95], "nice": false, "zero": false}, "axis": {"labelOverlap": false, "tickCount": 100, "values": [1,2,3,4,5,6,7,8,9,10,11,12,13,14,15], "labelExpr": "(datum.value + 2) % 4 === 0 ? format(datum.value, '~g') : ''"}}}},
      {"data": {"name": "lab"}, "transform": [{"filter": "datum.p === 'h'"}], "mark": {"type": "text", "align": "left", "baseline": "middle", "fontSize": 23, "color": "#222"}, "encoding": {"x": {"field": "x", "type": "quantitative"}, "y": {"field": "y", "type": "quantitative"}, "text": {"field": "t"}}},
      {"data": {"name": "slope"}, "transform": [{"filter": "datum.p === 'h'"}], "mark": {"type": "text", "align": "left", "baseline": "middle", "fontSize": 17.5, "color": "#222"}, "encoding": {"x": {"field": "x", "type": "quantitative"}, "y": {"field": "y", "type": "quantitative"}, "text": {"field": "t"}}},
      {"data": {"name": "leg"}, "transform": [{"filter": "datum.p === 'h'"}], "mark": {"type": "text", "align": "center", "baseline": "middle", "fontSize": 17, "color": "#4a5aa8"}, "encoding": {"x": {"field": "x", "type": "quantitative"}, "y": {"field": "y", "type": "quantitative"}, "text": {"field": "t"}}}
     ]},
    {"width": 347, "height": 227,
     "layer": [
      {"data": {"name": "dOl"}, "mark": {"type": "rule", "color": "#cdbfad", "strokeDash": [8, 7], "strokeWidth": 1.2}, "encoding": {"x": {"field": "x", "type": "quantitative", "title": null, "scale": {"domain": [-0.037, 1.3], "nice": false, "zero": false}, "axis": {"labelOverlap": false, "tickCount": 100, "values": [0,0.05,0.1,0.15,0.2,0.25,0.3,0.35,0.4,0.45,0.5,0.55,0.6,0.65,0.7,0.75,0.8,0.85,0.9,0.95,1,1.05,1.1,1.15,1.2,1.25,1.3], "labelExpr": "abs(datum.value*5 - round(datum.value*5)) < 0.001 ? format(datum.value, '~g') : ''"}}}},
      {"data": {"name": "c"}, "mark": {"type": "line", "color": "#e8452e", "strokeWidth": 0.8}, "encoding": {"x": {"field": "x", "type": "quantitative", "title": null, "scale": {"domain": [-0.037, 1.3], "nice": false, "zero": false}, "axis": {"labelOverlap": false, "tickCount": 100, "values": [0,0.05,0.1,0.15,0.2,0.25,0.3,0.35,0.4,0.45,0.5,0.55,0.6,0.65,0.7,0.75,0.8,0.85,0.9,0.95,1,1.05,1.1,1.15,1.2,1.25,1.3], "labelExpr": "abs(datum.value*5 - round(datum.value*5)) < 0.001 ? format(datum.value, '~g') : ''"}}, "y": {"field": "y", "type": "quantitative", "title": null, "scale": {"domain": [-4.1, 16.05], "nice": false, "zero": false}, "axis": {"labelOverlap": false, "tickCount": 100, "values": [-4,-3,-2,-1,0,1,2,3,4,5,6,7,8,9,10,11,12,13,14,15], "labelExpr": "datum.value % 5 === 0 ? format(datum.value, '~g') : ''"}}, "detail": {"field": "s"}}},
      {"data": {"name": "c"}, "mark": {"type": "point", "shape": "triangle-up", "filled": true, "opacity": 1, "color": "#e8452e", "size": 14}, "encoding": {"x": {"field": "x", "type": "quantitative", "title": null, "scale": {"domain": [-0.037, 1.3], "nice": false, "zero": false}, "axis": {"labelOverlap": false, "tickCount": 100, "values": [0,0.05,0.1,0.15,0.2,0.25,0.3,0.35,0.4,0.45,0.5,0.55,0.6,0.65,0.7,0.75,0.8,0.85,0.9,0.95,1,1.05,1.1,1.15,1.2,1.25,1.3], "labelExpr": "abs(datum.value*5 - round(datum.value*5)) < 0.001 ? format(datum.value, '~g') : ''"}}, "y": {"field": "y", "type": "quantitative", "title": null, "scale": {"domain": [-4.1, 16.05], "nice": false, "zero": false}, "axis": {"labelOverlap": false, "tickCount": 100, "values": [-4,-3,-2,-1,0,1,2,3,4,5,6,7,8,9,10,11,12,13,14,15], "labelExpr": "datum.value % 5 === 0 ? format(datum.value, '~g') : ''"}}}},
      {"data": {"name": "lab"}, "transform": [{"filter": "datum.p === 'c'"}], "mark": {"type": "text", "align": "left", "baseline": "middle", "fontSize": 23, "color": "#222"}, "encoding": {"x": {"field": "x", "type": "quantitative"}, "y": {"field": "y", "type": "quantitative"}, "text": {"field": "t"}}},
      {"data": {"name": "slope"}, "transform": [{"filter": "datum.p === 'c'"}], "mark": {"type": "text", "align": "left", "baseline": "middle", "fontSize": 17.5, "color": "#222"}, "encoding": {"x": {"field": "x", "type": "quantitative"}, "y": {"field": "y", "type": "quantitative"}, "text": {"field": "t"}}}
     ]},
    {"width": 342, "height": 227,
     "layer": [
      {"data": {"name": "dPl"}, "mark": {"type": "rule", "color": "#cdbfad", "strokeDash": [8, 7], "strokeWidth": 1.2}, "encoding": {"x": {"field": "x", "type": "quantitative", "title": "Size [mm]", "scale": {"domain": [-0.044, 1.312], "nice": false, "zero": false}, "axis": {"labelOverlap": false, "tickCount": 100, "values": [0,0.05,0.1,0.15,0.2,0.25,0.3,0.35,0.4,0.45,0.5,0.55,0.6,0.65,0.7,0.75,0.8,0.85,0.9,0.95,1,1.05,1.1,1.15,1.2,1.25,1.3], "labelExpr": "abs(datum.value*5 - round(datum.value*5)) < 0.001 ? format(datum.value, '~g') : ''"}}}},
      {"data": {"name": "f"}, "mark": {"type": "line", "color": "#e8452e", "strokeWidth": 0.8}, "encoding": {"x": {"field": "x", "type": "quantitative", "title": "Size [mm]", "scale": {"domain": [-0.044, 1.312], "nice": false, "zero": false}, "axis": {"labelOverlap": false, "tickCount": 100, "values": [0,0.05,0.1,0.15,0.2,0.25,0.3,0.35,0.4,0.45,0.5,0.55,0.6,0.65,0.7,0.75,0.8,0.85,0.9,0.95,1,1.05,1.1,1.15,1.2,1.25,1.3], "labelExpr": "abs(datum.value*5 - round(datum.value*5)) < 0.001 ? format(datum.value, '~g') : ''"}}, "y": {"field": "y", "type": "quantitative", "title": null, "scale": {"domain": [-3.3, 17.15], "nice": false, "zero": false}, "axis": {"labelOverlap": false, "tickCount": 100, "values": [-3,-2,-1,0,1,2,3,4,5,6,7,8,9,10,11,12,13,14,15,16], "labelExpr": "datum.value % 5 === 0 ? format(datum.value, '~g') : ''"}}, "detail": {"field": "s"}}},
      {"data": {"name": "f"}, "mark": {"type": "point", "shape": "triangle-up", "filled": true, "opacity": 1, "color": "#e8452e", "size": 14}, "encoding": {"x": {"field": "x", "type": "quantitative", "title": "Size [mm]", "scale": {"domain": [-0.044, 1.312], "nice": false, "zero": false}, "axis": {"labelOverlap": false, "tickCount": 100, "values": [0,0.05,0.1,0.15,0.2,0.25,0.3,0.35,0.4,0.45,0.5,0.55,0.6,0.65,0.7,0.75,0.8,0.85,0.9,0.95,1,1.05,1.1,1.15,1.2,1.25,1.3], "labelExpr": "abs(datum.value*5 - round(datum.value*5)) < 0.001 ? format(datum.value, '~g') : ''"}}, "y": {"field": "y", "type": "quantitative", "title": null, "scale": {"domain": [-3.3, 17.15], "nice": false, "zero": false}, "axis": {"labelOverlap": false, "tickCount": 100, "values": [-3,-2,-1,0,1,2,3,4,5,6,7,8,9,10,11,12,13,14,15,16], "labelExpr": "datum.value % 5 === 0 ? format(datum.value, '~g') : ''"}}}},
      {"data": {"name": "lab"}, "transform": [{"filter": "datum.p === 'f'"}], "mark": {"type": "text", "align": "left", "baseline": "middle", "fontSize": 23, "color": "#222"}, "encoding": {"x": {"field": "x", "type": "quantitative"}, "y": {"field": "y", "type": "quantitative"}, "text": {"field": "t"}}},
      {"data": {"name": "slope"}, "transform": [{"filter": "datum.p === 'f'"}], "mark": {"type": "text", "align": "left", "baseline": "middle", "fontSize": 17.5, "color": "#222"}, "encoding": {"x": {"field": "x", "type": "quantitative"}, "y": {"field": "y", "type": "quantitative"}, "text": {"field": "t"}}}
     ]},
    {"width": 362, "height": 227,
     "layer": [
      {"data": {"name": "dCp"}, "mark": {"type": "rule", "color": "#cdbfad", "strokeDash": [8, 7], "strokeWidth": 1.2}, "encoding": {"x": {"field": "x", "type": "quantitative", "title": null, "scale": {"domain": [-0.003, 0.329], "nice": false, "zero": false}, "axis": {"labelOverlap": false, "tickCount": 100, "values": [0,0.01,0.02,0.03,0.04,0.05,0.06,0.07,0.08,0.09,0.1,0.11,0.12,0.13,0.14,0.15,0.16,0.17,0.18,0.19,0.2,0.21,0.22,0.23,0.24,0.25,0.26,0.27,0.28,0.29,0.3,0.31,0.32], "labelExpr": "abs(datum.value*20 - round(datum.value*20)) < 0.001 ? format(datum.value, '~g') : ''"}}}},
      {"data": {"name": "i"}, "mark": {"type": "line", "color": "#e8452e", "strokeWidth": 0.8}, "encoding": {"x": {"field": "x", "type": "quantitative", "title": null, "scale": {"domain": [-0.003, 0.329], "nice": false, "zero": false}, "axis": {"labelOverlap": false, "tickCount": 100, "values": [0,0.01,0.02,0.03,0.04,0.05,0.06,0.07,0.08,0.09,0.1,0.11,0.12,0.13,0.14,0.15,0.16,0.17,0.18,0.19,0.2,0.21,0.22,0.23,0.24,0.25,0.26,0.27,0.28,0.29,0.3,0.31,0.32], "labelExpr": "abs(datum.value*20 - round(datum.value*20)) < 0.001 ? format(datum.value, '~g') : ''"}}, "y": {"field": "y", "type": "quantitative", "title": null, "scale": {"domain": [0.38, 15.95], "nice": false, "zero": false}, "axis": {"labelOverlap": false, "tickCount": 100, "values": [1,2,3,4,5,6,7,8,9,10,11,12,13,14,15], "labelExpr": "(datum.value + 2) % 4 === 0 ? format(datum.value, '~g') : ''"}}, "detail": {"field": "s"}}},
      {"data": {"name": "i"}, "mark": {"type": "point", "shape": "triangle-up", "filled": true, "opacity": 1, "color": "#e8452e", "size": 14}, "encoding": {"x": {"field": "x", "type": "quantitative", "title": null, "scale": {"domain": [-0.003, 0.329], "nice": false, "zero": false}, "axis": {"labelOverlap": false, "tickCount": 100, "values": [0,0.01,0.02,0.03,0.04,0.05,0.06,0.07,0.08,0.09,0.1,0.11,0.12,0.13,0.14,0.15,0.16,0.17,0.18,0.19,0.2,0.21,0.22,0.23,0.24,0.25,0.26,0.27,0.28,0.29,0.3,0.31,0.32], "labelExpr": "abs(datum.value*20 - round(datum.value*20)) < 0.001 ? format(datum.value, '~g') : ''"}}, "y": {"field": "y", "type": "quantitative", "title": null, "scale": {"domain": [0.38, 15.95], "nice": false, "zero": false}, "axis": {"labelOverlap": false, "tickCount": 100, "values": [1,2,3,4,5,6,7,8,9,10,11,12,13,14,15], "labelExpr": "(datum.value + 2) % 4 === 0 ? format(datum.value, '~g') : ''"}}}},
      {"data": {"name": "lab"}, "transform": [{"filter": "datum.p === 'i'"}], "mark": {"type": "text", "align": "left", "baseline": "middle", "fontSize": 23, "color": "#222"}, "encoding": {"x": {"field": "x", "type": "quantitative"}, "y": {"field": "y", "type": "quantitative"}, "text": {"field": "t"}}},
      {"data": {"name": "slope"}, "transform": [{"filter": "datum.p === 'i'"}], "mark": {"type": "text", "align": "left", "baseline": "middle", "fontSize": 17.5, "color": "#222"}, "encoding": {"x": {"field": "x", "type": "quantitative"}, "y": {"field": "y", "type": "quantitative"}, "text": {"field": "t"}}},
      {"data": {"name": "leg"}, "transform": [{"filter": "datum.p === 'i'"}], "mark": {"type": "text", "align": "center", "baseline": "middle", "fontSize": 17, "color": "#e8452e"}, "encoding": {"x": {"field": "x", "type": "quantitative"}, "y": {"field": "y", "type": "quantitative"}, "text": {"field": "t"}}}
     ]}
]
}
